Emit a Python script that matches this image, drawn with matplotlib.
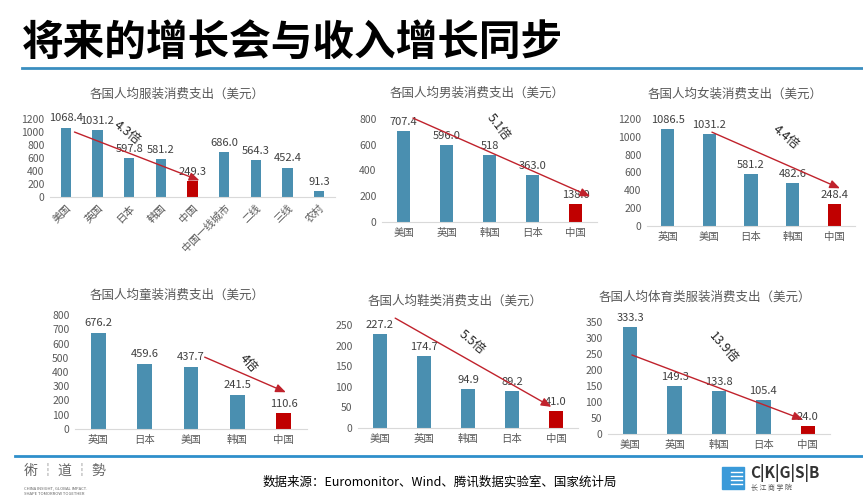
import matplotlib
matplotlib.use("Agg")
import matplotlib.pyplot as plt
from matplotlib.patches import Rectangle

plt.rcParams['font.family'] = ['Noto Sans CJK SC', 'DejaVu Sans']

W, H = 863, 500
BLUE = "#4A8FB0"
RED = "#C00000"
ARROW = "#C0222C"
GREY = "#595959"

# --- data ---
cats1 = ["美国", "英国", "日本", "韩国", "中国", "中国一线城市", "二线", "三线", "农村"]
vals1 = [1068.4, 1031.2, 597.8, 581.2, 249.3, 686.0, 564.3, 452.4, 91.3]

cats2 = ["美国", "英国", "韩国", "日本", "中国"]
vals2 = [707.4, 596.0, 518, 363.0, 138.0]

cats3 = ["英国", "美国", "日本", "韩国", "中国"]
vals3 = [1086.5, 1031.2, 581.2, 482.6, 248.4]

cats4 = ["英国", "日本", "美国", "韩国", "中国"]
vals4 = [676.2, 459.6, 437.7, 241.5, 110.6]

cats5 = ["美国", "英国", "韩国", "日本", "中国"]
vals5 = [227.2, 174.7, 94.9, 89.2, 41.0]

cats6 = ["美国", "英国", "韩国", "日本", "中国"]
vals6 = [333.3, 149.3, 133.8, 105.4, 24.0]

titles = ["各国人均服装消费支出（美元）", "各国人均男装消费支出（美元）",
          "各国人均女装消费支出（美元）", "各国人均童装消费支出（美元）",
          "各国人均鞋类消费支出（美元）", "各国人均体育类服装消费支出（美元）"]
ratios = ["4.3倍", "5.1倍", "4.4倍", "4倍", "5.5倍", "13.9倍"]


def fmt(v):
    return str(v) if isinstance(v, int) else f"{v:.1f}"


fig = plt.figure(figsize=(W / 100, H / 100), dpi=100)


def px_axes(x0, y0, x1, y1):
    return fig.add_axes([x0 / W, 1 - y1 / H, (x1 - x0) / W, (y1 - y0) / H])


def ftext(x, y, s, **kw):
    fig.text(x / W, 1 - y / H, s, **kw)


# panel boxes in pixels (left, top, right, bottom), y limits, tick step
panels = [
    (cats1, vals1, (50, 119, 335, 197), 1200, 200, True),
    (cats2, vals2, (382, 119, 597, 222), 800, 200, False),
    (cats3, vals3, (647, 119, 855, 226), 1200, 200, False),
    (cats4, vals4, (75, 315, 307, 429), 800, 100, False),
    (cats5, vals5, (358, 325, 578, 428), 250, 50, False),
    (cats6, vals6, (608, 322, 830, 434), 350, 50, False),
]
# arrow (start, end) and ratio label position/rotation, in data coords
arrows = [
    ((0.19, 1015), (4.3, 240), (1.95, 985), -38),
    ((0.16, 816), (4.4, 190), (2.2, 735), -52),
    ((1.0, 1065), (4.2, 410), (2.85, 1000), -40),
    ((2.24, 512), (4.1, 250), (3.25, 460), -48),
    ((0.29, 270), (3.95, 48), (2.1, 209), -40),
    ((-0.02, 250), (3.95, 42), (2.1, 269), -48),
]
title_pos = [(177, 94), (477, 93), (735, 94), (177, 295), (455, 301), (705, 297)]

for i, (cats, vals, box, top, step, rot) in enumerate(panels):
    ax = px_axes(*box)
    x = range(len(cats))
    colors = [RED if c == "中国" else BLUE for c in cats]
    bars = ax.bar(x, vals, width=0.32, color=colors)
    for b, v in zip(bars, vals):
        ax.annotate(fmt(v), (b.get_x() + b.get_width() / 2, v), xytext=(0, 3),
                    textcoords="offset points", ha="center", va="bottom",
                    fontsize=8, color="#404040")
    ax.set_xlim(-0.5, len(cats) - 0.5)
    ax.set_ylim(0, top)
    ax.set_yticks(range(0, top + 1, step))
    ax.tick_params(length=0, labelsize=7.5, labelcolor=GREY, pad=4)
    ax.set_xticks(list(x))
    if rot:
        ax.set_xticklabels(cats, rotation=45, ha="right", rotation_mode="anchor")
    else:
        ax.set_xticklabels(cats)
    for s in ["top", "right", "left"]:
        ax.spines[s].set_visible(False)
    ax.spines["bottom"].set_color("#D9D9D9")
    ax.patch.set_alpha(0)

    (sx, sy), (ex, ey), (lx, ly), ang = arrows[i]
    ax.annotate("", xy=(ex, ey), xytext=(sx, sy), annotation_clip=False,
                arrowprops=dict(arrowstyle="-|>,head_length=0.6,head_width=0.25",
                                color=ARROW, lw=1))
    ax.text(lx, ly, ratios[i], rotation=ang, ha="center", va="center",
            fontsize=9, color="#222222", clip_on=False)

    tx, ty = title_pos[i]
    ftext(tx, ty, titles[i], ha="center", va="center", fontsize=9, color=GREY)

# main title and rules
ftext(22, 43, "将来的增长会与收入增长同步", fontsize=30, fontweight="bold",
      color="black", va="center", ha="left")
fig.add_artist(plt.Line2D([22 / W, 1], [1 - 68 / H] * 2, color="#3A8EC0", lw=2))
fig.add_artist(plt.Line2D([15 / W, 1], [1 - 456 / H] * 2, color="#2F8FCB", lw=2))

# footer
ftext(440, 482, "数据来源：Euromonitor、Wind、腾讯数据实验室、国家统计局",
      ha="center", va="center", fontsize=9, color="black")

# left logo
ftext(24, 471, "術 ┆ 道 ┆ 勢", fontsize=10, color="#666666", va="center", ha="left")
ftext(24, 488, "CHINA INSIGHT, GLOBAL IMPACT.", fontsize=3, color="#666666", va="center")
ftext(24, 494, "SHAPE TOMORROW TOGETHER", fontsize=3, color="#666666", va="center")

# right logo
fig.add_artist(Rectangle((722 / W, 1 - 489 / H), 22 / W, 22 / H,
                         transform=fig.transFigure, color="#3A9AD9"))
for k in range(4):
    fig.add_artist(plt.Line2D([731 / W, 742 / W], [1 - (472 + 4 * k) / H] * 2,
                              color="white", lw=1, transform=fig.transFigure))
ftext(750, 473, "C|K|G|S|B", fontsize=11, fontweight="bold", color="#333333",
      va="center", ha="left")
ftext(751, 488, "长 江 商 学 院", fontsize=5, color="#555555", va="center", ha="left")

fig.savefig("out.png", dpi=100)
